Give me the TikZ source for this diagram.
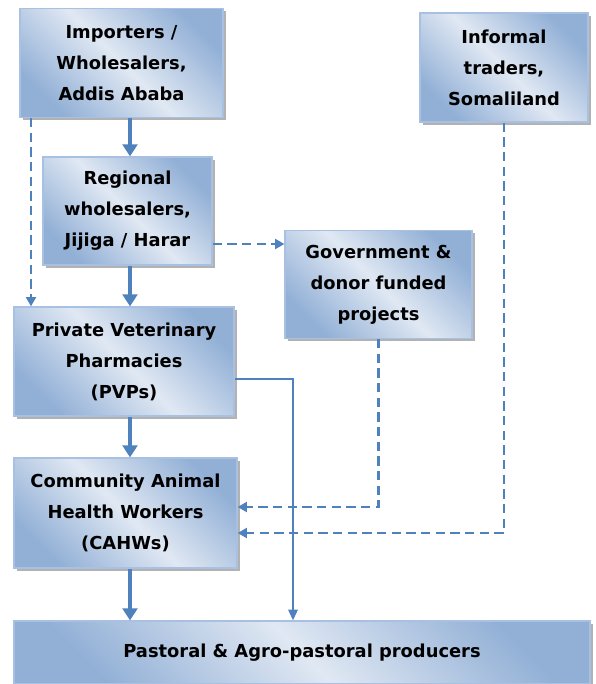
\documentclass[tikz,border=0pt]{standalone}
\usepackage{fontspec}
\setmainfont{DejaVu Sans}
\usetikzlibrary{shadows,arrows.meta}

\definecolor{flowblue}{RGB}{79,129,189}
\definecolor{boxdark}{RGB}{146,176,214}
\definecolor{boxlight}{RGB}{224,232,243}
\definecolor{boxedge}{RGB}{168,193,226}

\tikzset{
	chainbox/.style={draw=boxedge, line width=0.9, top color=boxdark, bottom color=boxdark, middle color=boxlight, shading angle=-45,
		drop shadow={shadow xshift=2pt, shadow yshift=-2pt, opacity=0.55, fill=black!55},
		align=center, inner sep=0pt, font=\bfseries\fontsize{13.4}{23.3}\selectfont},
	mainflow/.style={draw=flowblue, line width=3, -{Triangle[width=11pt,length=9pt]}},
	sideflow/.style={draw=flowblue, line width=1.6, dash pattern=on 7pt off 4pt, -{Triangle[width=7.5pt,length=7pt]}},
	directflow/.style={draw=flowblue, line width=1.3, -{Triangle[width=7pt,length=8pt]}}
}

\begin{document}
\begin{tikzpicture}[x=0.75pt,y=0.75pt,yscale=-1,xscale=1]
				\useasboundingbox (0,0) rectangle (595,684);
				
				%Shape: Rectangle - importers
				\node [chainbox, minimum width=152.25pt, minimum height=81.75pt] (imp) at (121.5,63) {Importers /\\Wholesalers,\\Addis Ababa};
				%Shape: Rectangle - regional wholesalers
				\node [chainbox, minimum width=126.75pt, minimum height=81pt] (reg) at (127.5,211) {Regional\\wholesalers,\\Jijiga / Harar};
				%Shape: Rectangle - informal traders
				\node [chainbox, minimum width=126pt, minimum height=81.75pt] (inf) at (504,67.5) {Informal\\traders,\\Somaliland};
				%Shape: Rectangle - projects
				\node [chainbox, minimum width=140.25pt, minimum height=81pt] (gov) at (378.5,284.5) {Government \&\\donor funded\\projects};
				%Shape: Rectangle - PVPs
				\node [chainbox, minimum width=165pt, minimum height=81.75pt] (pvp) at (124,361.5) {Private Veterinary\\Pharmacies\\(PVPs)};
				%Shape: Rectangle - CAHWs
				\node [chainbox, minimum width=167.25pt, minimum height=82.5pt] (cahw) at (125.5,513) {Community Animal\\Health Workers\\(CAHWs)};
				%Shape: Rectangle - producers
				\node [chainbox, minimum width=432pt, minimum height=47.25pt] (pas) at (302,652.5) {Pastoral \& Agro-pastoral producers};
				
				%guide coordinates
				\coordinate (spine) at (130,0);
				\coordinate (bypass) at (31,0);
				\coordinate (feed) at (0,244);
				\coordinate (pvpout) at (0,379);
				\coordinate (drop) at (293,0);
				\coordinate (govin) at (0,507);
				\coordinate (infin) at (0,533);
				
				%Straight Lines - main chain
				\draw [mainflow] (imp.south -| spine) -- (reg.north -| spine) ;
				\draw [mainflow] (reg.south -| spine) -- (pvp.north -| spine) ;
				\draw [mainflow] (pvp.south -| spine) -- (cahw.north -| spine) ;
				\draw [mainflow] (cahw.south -| spine) -- (pas.north -| spine) ;
				%Straight Lines - dashed supply
				\draw [sideflow] (imp.south -| bypass) -- (pvp.north -| bypass) ;
				\draw [sideflow] (reg.east |- feed) -- (gov.west |- feed) ;
				\draw [sideflow] (gov.south) |- (cahw.east |- govin) ;
				\draw [sideflow] (inf.south) |- (cahw.east |- infin) ;
				%Straight Lines - PVPs to producers
				\draw [directflow] (pvp.east |- pvpout) -| (pas.north -| drop) ;
				
\end{tikzpicture}
\end{document}
